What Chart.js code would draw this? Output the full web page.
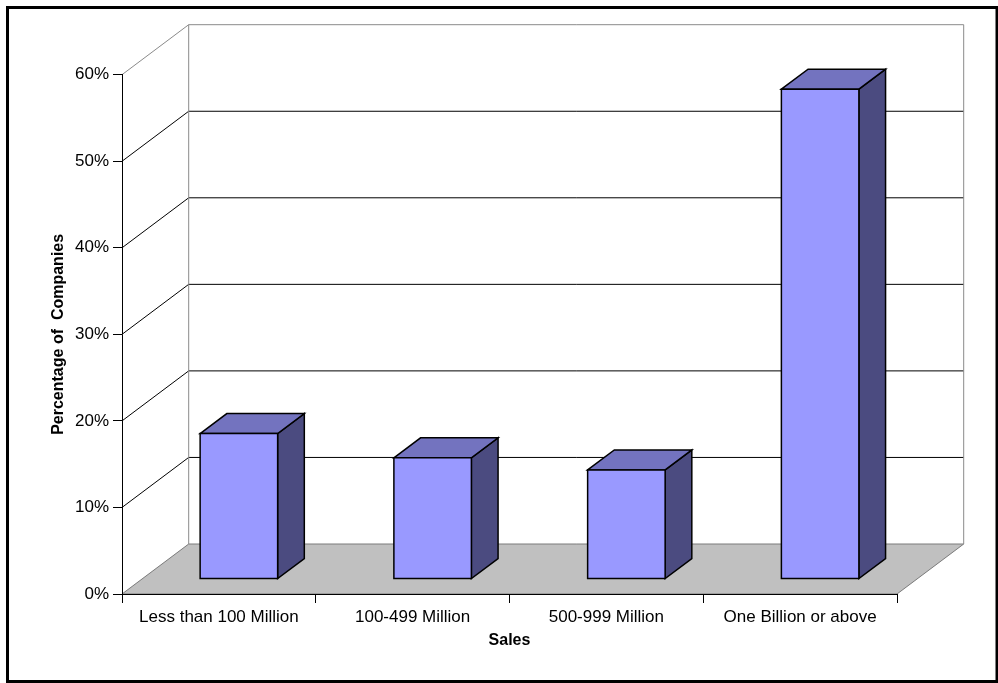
<!DOCTYPE html>
<html>
<head>
<meta charset="utf-8">
<title>Percentage of Companies by Sales</title>
<script src="https://cdn.jsdelivr.net/npm/chart.js@4/dist/chart.umd.min.js"></script>
<style>
  html, body { margin: 0; padding: 0; background: #ffffff; }
  #wrap { width: 998px; height: 683px; }
</style>
</head>
<body>
<div id="wrap"><canvas id="chart" width="998" height="683"></canvas></div>
<script>
// Share of companies in each sales band (percent)
const categories = ['Less than 100 Million', '100-499 Million', '500-999 Million', 'One Billion or above'];
const shares = [16.8, 14.0, 12.6, 56.6];
const yTickValues = [0, 10, 20, 30, 40, 50, 60];
const xTitle = 'Sales';
const yTitle = 'Percentage of  Companies';

const FONT = '"Liberation Sans", Arial, Helvetica, sans-serif';

// Oblique 3D look: walls, floor and boxes drawn around the library's own scales
const box3d = {
  id: 'box3d',
  beforeDraw(chart, args, o) {
    const ctx = chart.ctx;
    const x = chart.scales.x, y = chart.scales.y;
    const L = x.left, R = x.right;
    const dx = o.depthX, dy = o.depthY;
    const y0 = y.getPixelForValue(yTickValues[0]);
    const yTop = y.getPixelForValue(yTickValues[yTickValues.length - 1]);
    ctx.save();
    ctx.fillStyle = '#ffffff';
    ctx.fillRect(0, 0, chart.width, chart.height);

    // floor
    ctx.beginPath();
    ctx.moveTo(L, y0);
    ctx.lineTo(R, y0);
    ctx.lineTo(R + dx, y0 - dy);
    ctx.lineTo(L + dx, y0 - dy);
    ctx.closePath();
    ctx.fillStyle = '#c0c0c0';
    ctx.fill();
    ctx.lineWidth = 1;
    ctx.strokeStyle = '#7a7a7a';
    ctx.stroke();

    // gridlines: left wall diagonal + back wall
    yTickValues.forEach(v => {
      if (v === yTickValues[0]) return;
      const py = y.getPixelForValue(v);
      ctx.beginPath();
      ctx.moveTo(L, py);
      ctx.lineTo(L + dx, py - dy);
      ctx.lineTo(R + dx, py - dy);
      ctx.strokeStyle = (v === yTickValues[yTickValues.length - 1]) ? '#8a8a8a' : '#000000';
      ctx.stroke();
    });

    // wall edges
    ctx.strokeStyle = '#8a8a8a';
    ctx.beginPath();
    ctx.moveTo(L + dx, yTop - dy);
    ctx.lineTo(L + dx, y0 - dy);
    ctx.moveTo(R + dx, yTop - dy);
    ctx.lineTo(R + dx, y0 - dy);
    ctx.stroke();
    ctx.restore();
  },
  afterDatasetsDraw(chart, args, o) {
    const ctx = chart.ctx;
    const meta = chart.getDatasetMeta(0);
    const sx = o.depthX * o.frontAt, sy = o.depthY * o.frontAt;
    const bx = o.depthX * o.boxDepth, by = o.depthY * o.boxDepth;
    ctx.save();
    ctx.lineJoin = 'miter';
    ctx.lineWidth = 1.5;
    ctx.strokeStyle = '#000000';
    meta.data.forEach(bar => {
      const p = bar.getProps(['x', 'y', 'base', 'width'], true);
      const l = p.x - p.width / 2 + sx, r = p.x + p.width / 2 + sx;
      const t = p.y - sy, b = p.base - sy;
      // side
      ctx.beginPath();
      ctx.moveTo(r, t); ctx.lineTo(r + bx, t - by); ctx.lineTo(r + bx, b - by); ctx.lineTo(r, b); ctx.closePath();
      ctx.fillStyle = o.side; ctx.fill(); ctx.stroke();
      // top
      ctx.beginPath();
      ctx.moveTo(l, t); ctx.lineTo(l + bx, t - by); ctx.lineTo(r + bx, t - by); ctx.lineTo(r, t); ctx.closePath();
      ctx.fillStyle = o.top; ctx.fill(); ctx.stroke();
      // front
      ctx.beginPath();
      ctx.rect(l, t, r - l, b - t);
      ctx.fillStyle = o.front; ctx.fill(); ctx.stroke();
    });
    ctx.restore();
  },
  afterDraw(chart) {
    const ctx = chart.ctx;
    ctx.save();
    ctx.lineWidth = 3;
    ctx.strokeStyle = '#000000';
    ctx.strokeRect(7.5, 7.5, 989.5, 674);
    ctx.restore();
  }
};

new Chart(document.getElementById('chart'), {
  type: 'bar',
  data: {
    labels: categories,
    datasets: [{
      data: shares,
      backgroundColor: 'rgba(0,0,0,0)',
      borderWidth: 0,
      barPercentage: 0.4,
      categoryPercentage: 1.0
    }]
  },
  options: {
    responsive: false,
    animation: false,
    devicePixelRatio: 1,
    events: [],
    layout: { padding: { left: 0, right: 101, top: 74.7, bottom: 0 } },
    plugins: {
      legend: { display: false },
      tooltip: { enabled: false },
      box3d: {
        depthX: 66.7, depthY: 50,
        frontAt: 0.3, boxDepth: 0.4,
        front: '#9999ff', top: '#7373bf', side: '#4b4b80'
      }
    },
    scales: {
      x: {
        type: 'category',
        afterFit: s => { s.height = 89; },
        grid: { offset: true, drawOnChartArea: false, drawTicks: true, tickLength: 9, color: '#000000', lineWidth: 1 },
        border: { display: true, color: '#000000', width: 1 },
        ticks: { color: '#000000', font: { family: FONT, size: 17 }, padding: 4, maxRotation: 0, autoSkip: false },
        title: { display: true, text: xTitle, color: '#000000', font: { family: FONT, size: 16, weight: 'bold' }, padding: { top: 0, bottom: 32.4 } }
      },
      y: {
        min: 0, max: 60,
        afterFit: s => { s.width = 122; },
        afterBuildTicks: s => { s.ticks = yTickValues.map(v => ({ value: v })); },
        grid: { drawOnChartArea: false, drawTicks: true, tickLength: 9, color: '#000000', lineWidth: 1 },
        border: { display: true, color: '#000000', width: 1 },
        ticks: { color: '#000000', font: { family: FONT, size: 17 }, padding: 4, callback: v => v + '%' },
        title: { display: true, text: yTitle, color: '#000000', font: { family: FONT, size: 16, weight: 'bold' }, padding: { top: 49.2, bottom: 0 } }
      }
    }
  },
  plugins: [box3d]
});
</script>
</body>
</html>
